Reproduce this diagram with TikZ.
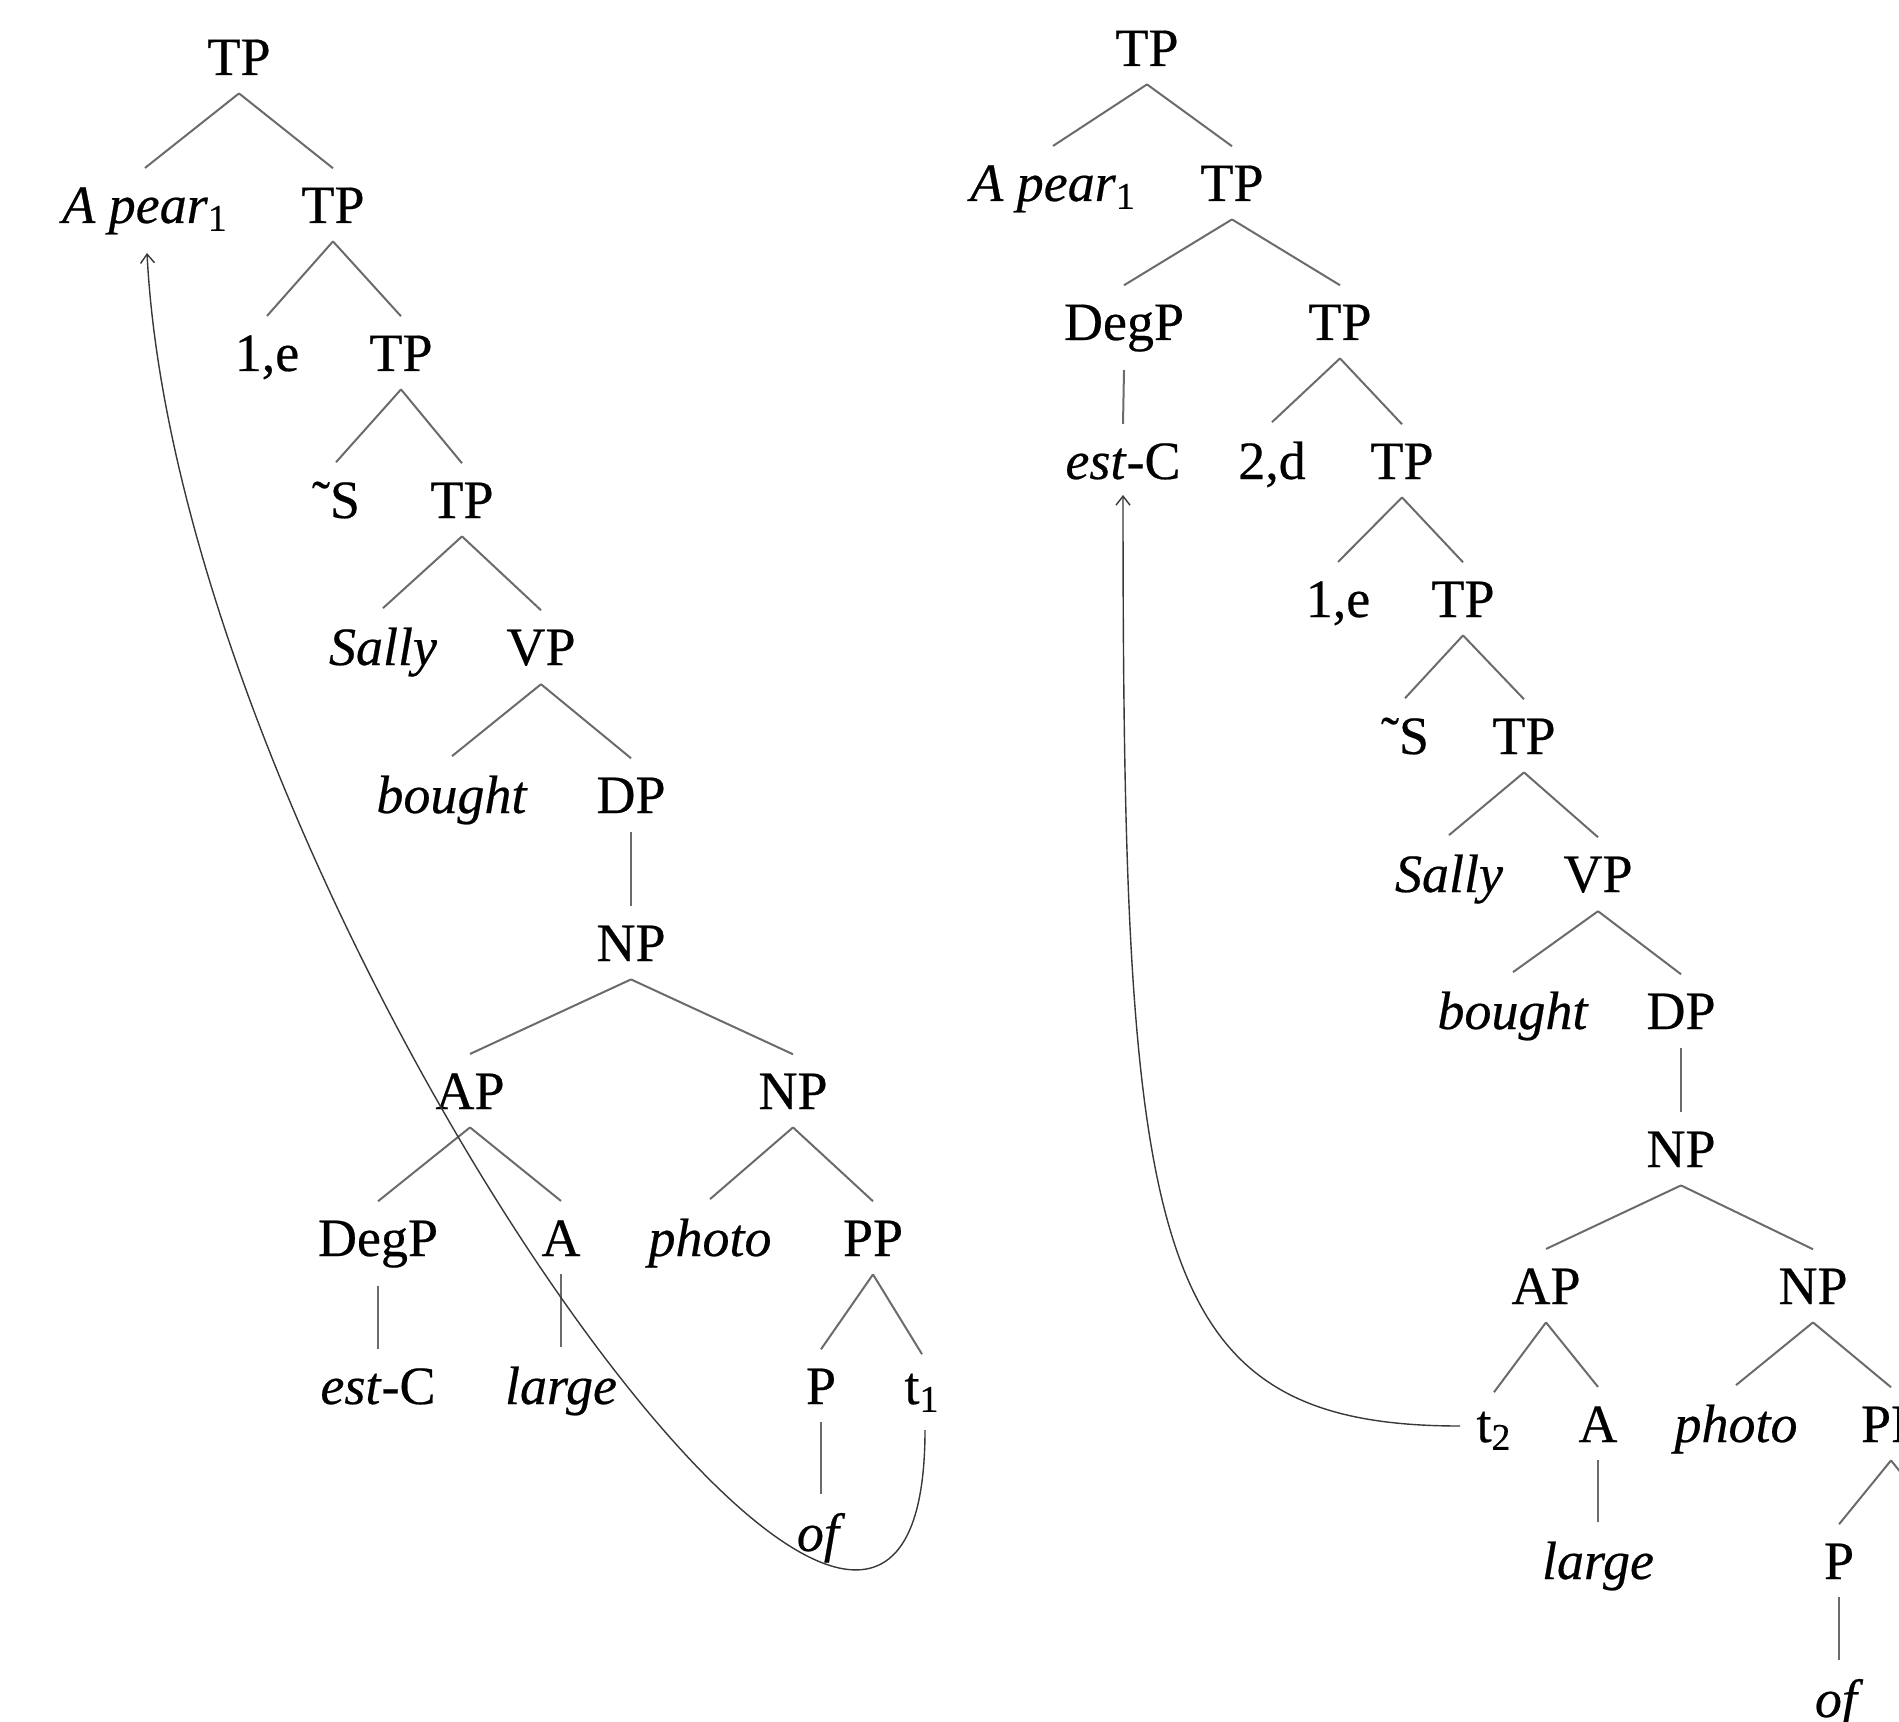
\documentclass[tikz,border=0pt]{standalone}
\usepackage{fontspec}
\setmainfont{Liberation Serif}[FakeBold=0.4]
\usetikzlibrary{calc,arrows.meta}
\newcommand\tedge[2]{\draw[edge] ($(#1.south)+(0,18)$) -- ($(#2.north)+(0,-19)$);}
\begin{document}
\begin{tikzpicture}[x=0.5pt,y=-0.5pt,
  lab/.style={anchor=base,inner sep=0pt,font=\fontsize{27pt}{32pt}\selectfont},
  edge/.style={draw=black!58,line width=1pt},
  mov/.style={draw=black!78,line width=0.7pt,-{Straight Barb[length=4.5pt,width=7pt]}}]
\useasboundingbox (0,0) rectangle (1899,1722);
\clip (0,0) rectangle (1899,1722);
% ---------------- left tree ----------------
\node[lab] (l0) at (239,75) {TP};
\node[lab] (lapear) at (145,223) {\textit{A pear}\textsubscript{1}};
\node[lab] (ltp1) at (333,223) {TP};
\node[lab] (lonee) at (267,371) {1,e};
\node[lab] (ltp2) at (401,371) {TP};
\node[lab] (ls) at (336,518) {˜S};
\node[lab] (ltp3) at (462,518) {TP};
\node[lab] (lsally) at (383,665) {\textit{Sally}};
\node[lab] (lvp) at (541,665) {VP};
\node[lab] (lbought) at (452,813) {\textit{bought}};
\node[lab] (ldp) at (631,813) {DP};
\node[lab] (lnp) at (631,961) {NP};
\node[lab] (lap) at (470,1109) {AP};
\node[lab] (lnp2) at (793,1109) {NP};
\node[lab] (ldegp) at (378,1256) {DegP};
\node[lab] (la) at (561,1256) {A};
\node[lab] (lphoto) at (710,1256) {\textit{photo}};
\node[lab] (lpp) at (873,1256) {PP};
\node[lab] (lestc) at (378,1404) {\textit{est}-C};
\node[lab] (llarge) at (561,1404) {\textit{large}};
\node[lab] (lp) at (821,1404) {P};
\node[lab] (lt1) at (922,1404) {t\textsubscript{1}};
\node[lab] (lof) at (821,1551) {\textit{of}};
\tedge{l0}{lapear}
\tedge{l0}{ltp1}
\tedge{ltp1}{lonee}
\tedge{ltp1}{ltp2}
\tedge{ltp2}{ls}
\tedge{ltp2}{ltp3}
\tedge{ltp3}{lsally}
\tedge{ltp3}{lvp}
\tedge{lvp}{lbought}
\tedge{lvp}{ldp}
\tedge{ldp}{lnp}
\tedge{lnp}{lap}
\tedge{lnp}{lnp2}
\tedge{lap}{ldegp}
\tedge{lap}{la}
\tedge{lnp2}{lphoto}
\tedge{lnp2}{lpp}
\tedge{ldegp}{lestc}
\tedge{la}{llarge}
\tedge{lpp}{lp}
\tedge{lpp}{lt1}
\tedge{lp}{lof}
\coordinate (lstart) at ($(lt1.base)+(3,26)$);
\coordinate (lend) at ($(lapear.base)+(2,30)$);
\draw[mov] (lstart) .. controls +(0,520) and +(33,647) .. (lend);
% ---------------- right tree ----------------
\node[lab] (r0) at (1147,66) {TP};
\node[lab] (rapear) at (1053,201) {\textit{A pear}\textsubscript{1}};
\node[lab] (rtp1) at (1232,201) {TP};
\node[lab] (rdegp) at (1124,340) {DegP};
\node[lab] (rtp2) at (1340,340) {TP};
\node[lab] (restc) at (1123,479) {\textit{est}-C};
\node[lab] (rtwod) at (1272,479) {2,d};
\node[lab] (rtp3) at (1402,479) {TP};
\node[lab] (ronee) at (1338,617) {1,e};
\node[lab] (rtp4) at (1463,617) {TP};
\node[lab] (rs) at (1405,754) {˜S};
\node[lab] (rtp5) at (1524,754) {TP};
\node[lab] (rsally) at (1449,892) {\textit{Sally}};
\node[lab] (rvp) at (1598,892) {VP};
\node[lab] (rbought) at (1513,1029) {\textit{bought}};
\node[lab] (rdp) at (1681,1029) {DP};
\node[lab] (rnp) at (1681,1167) {NP};
\node[lab] (rap) at (1546,1304) {AP};
\node[lab] (rnp2) at (1813,1304) {NP};
\node[lab] (rt2) at (1494,1442) {t\textsubscript{2}};
\node[lab] (ra) at (1598,1442) {A};
\node[lab] (rphoto) at (1736,1442) {\textit{photo}};
\node[lab] (rpp) at (1891,1442) {PP};
\node[lab] (rlarge) at (1598,1579) {\textit{large}};
\node[lab] (rp) at (1839,1579) {P};
\node[lab] (rof) at (1839,1717) {\textit{of}};
\coordinate (rppr) at (1943,1525);
\tedge{r0}{rapear}
\tedge{r0}{rtp1}
\tedge{rtp1}{rdegp}
\tedge{rtp1}{rtp2}
\tedge{rdegp}{restc}
\tedge{rtp2}{rtwod}
\tedge{rtp2}{rtp3}
\tedge{rtp3}{ronee}
\tedge{rtp3}{rtp4}
\tedge{rtp4}{rs}
\tedge{rtp4}{rtp5}
\tedge{rtp5}{rsally}
\tedge{rtp5}{rvp}
\tedge{rvp}{rbought}
\tedge{rvp}{rdp}
\tedge{rdp}{rnp}
\tedge{rnp}{rap}
\tedge{rnp}{rnp2}
\tedge{rap}{rt2}
\tedge{rap}{ra}
\tedge{rnp2}{rphoto}
\tedge{rnp2}{rpp}
\tedge{ra}{rlarge}
\tedge{rpp}{rp}
\draw[edge] ($(rpp.south)+(0,18)$) -- (rppr);
\tedge{rp}{rof}
\coordinate (rstart) at ($(rt2.base west)+(-16,-16)$);
\coordinate (rend) at ($(restc.base)+(0,16)$);
\draw[mov] (rstart) .. controls +(-312,0) and +(0,756) .. (rend);
\end{tikzpicture}
\end{document}
